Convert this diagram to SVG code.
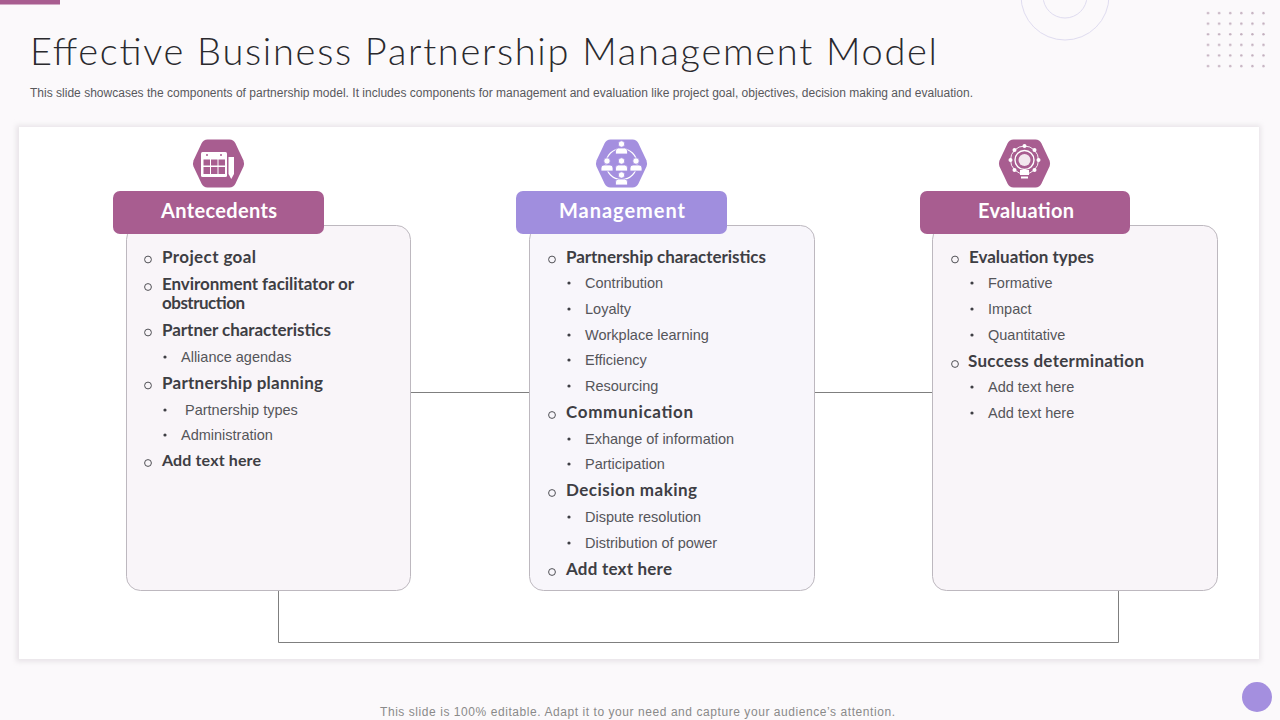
<svg xmlns="http://www.w3.org/2000/svg" width="1280" height="720" viewBox="0 0 1280 720">
<style>
text{font-variant-ligatures:none}
.bg{fill:#fbf9fb}
.title{font:300 38px Lato,"Liberation Sans",sans-serif;fill:#2a2a2e}
.sub{font:400 12px "Liberation Sans",Arial,sans-serif;fill:#58585c}
.foot{font:400 12px "Liberation Sans",Arial,sans-serif;fill:#8a8a8a}
.head{font:700 20px Lato,"Liberation Sans",sans-serif;fill:#fff}
.h1{font:700 17px Lato,"Liberation Sans",sans-serif;fill:#3e3e44}
.h2{font:400 14.500px "Liberation Sans",Arial,sans-serif;fill:#55555a}
.o{fill:none;stroke:#3e3e44;stroke-width:.9}
.d{fill:#3e3e44}
.card{stroke:#bdb8bf;stroke-width:1}
.conn{fill:none;stroke:#7f7f7f;stroke-width:1}
.ic{fill:#fff}
.il{fill:none;stroke:#fff;stroke-width:1.500}
.dot{fill:#c2aebd}
</style>
<defs>
<path id="hex" d="M-11,-24 H11 Q15,-24 17,-20 L25,-3 Q26,0 25,3 L17,20 Q15,24 11,24 H-11 Q-15,24 -17,20 L-25,3 Q-26,0 -25,-3 L-17,-20 Q-15,-24 -11,-24Z"/>
<g id="person"><circle cx="0" cy="-5" r="3.200" class="ic" stroke="#a48fdf" stroke-width=".8"/><path class="ic" stroke="#a48fdf" stroke-width=".8" d="M-6,5 V2 Q-6,-1 -3,-1 H3 Q6,-1 6,2 V5Z"/></g>
<circle id="o" r="3.400" class="o"/>
<circle id="b" r="1.600" class="d"/>
<pattern id="dots" x="1203" y="8" width="11.100" height="10.600" patternUnits="userSpaceOnUse"><circle cx="5" cy="5" r="1.200" class="dot"/></pattern>
<filter id="sh" x="-2%" y="-3%" width="104%" height="106%"><feGaussianBlur stdDeviation="2.500"/></filter>
</defs>
<rect class="bg" width="1280" height="720"/>
<rect width="60" height="4.500" fill="#a85d90"/>
<g fill="none" stroke="#dfdcf0" stroke-width="1"><circle cx="1065" cy="-4" r="44"/><circle cx="1065" cy="-4" r="22"/></g>
<rect x="1203" y="8" width="66" height="64" fill="url(#dots)"/>
<text class="title" x="30" y="65" textLength="907" lengthAdjust="spacing">Effective Business Partnership Management Model</text>
<text class="sub" x="30" y="97" textLength="943" lengthAdjust="spacing">This slide showcases the components of partnership model. It includes components for management and evaluation like project goal, objectives, decision making and evaluation.</text>
<rect x="16" y="125" width="1245" height="537" fill="#e9e5e9" filter="url(#sh)"/>
<rect x="19" y="127" width="1240" height="532" fill="#fff"/>
<g id="connectors">
<path class="conn" d="M411,392.500H530M815,392.500H933M278.500,590V642.500H1118.500V590"/>
</g>
<g id="antecedents">
<rect class="card" x="126.500" y="225.500" width="284" height="365" rx="14" fill="#f9f5f9"/>
<use href="#hex" x="218.500" y="163.500" fill="#a85d90"/>
<g class="icon">
<rect x="201" y="152" width="26" height="25" rx="1.500" class="ic"/>
<circle cx="207" cy="155" r="1" fill="#a85d90"/><circle cx="221" cy="155" r="1" fill="#a85d90"/>
<g fill="#a85d90"><rect x="203.500" y="159.500" width="6.500" height="6"/><rect x="211" y="159.500" width="6.500" height="6"/><rect x="218.500" y="159.500" width="6.500" height="6"/><rect x="203.500" y="167" width="6.500" height="7"/><rect x="211" y="167" width="6.500" height="7"/><rect x="218.500" y="167" width="6.500" height="7"/></g>
<path class="ic" d="M228.500,157h5.500v17l-2.750,5l-2.750,-5z"/>
</g>
<rect x="113" y="191" width="211" height="43" rx="7" fill="#a85d90"/>
<text class="head" x="161" y="218" textLength="116">Antecedents</text>
<use href="#o" x="148" y="259.500"/><text class="h1" x="162" y="263" textLength="94">Project goal</text>
<use href="#o" x="148" y="287"/><text class="h1" x="162" y="290" textLength="192">Environment facilitator or</text><text class="h1" x="162" y="309" textLength="83">obstruction</text>
<use href="#o" x="148" y="332.500"/><text class="h1" x="162" y="336" textLength="169">Partner characteristics</text>
<use href="#b" x="165" y="357"/><text class="h2" x="181" y="362">Alliance agendas</text>
<use href="#o" x="148" y="385.500"/><text class="h1" x="162" y="389" textLength="161">Partnership planning</text>
<use href="#b" x="165" y="410"/><text class="h2" x="185" y="415">Partnership types</text>
<use href="#b" x="165" y="435"/><text class="h2" x="181" y="440">Administration</text>
<use href="#o" x="148" y="463"/><text class="h1" x="162" y="466" style="font-size:16px" textLength="99">Add text here</text>
</g>
<g id="management">
<rect class="card" x="529.500" y="225.500" width="285" height="365" rx="14" fill="#f8f6fb"/>
<use href="#hex" x="621.500" y="163.500" fill="#a48fdf"/>
<circle cx="621.500" cy="164" r="15.500" fill="none" stroke="#fff" stroke-width="1.200"/>
<use href="#person" x="621.500" y="149"/><use href="#person" x="621.500" y="166"/><use href="#person" x="607" y="166"/><use href="#person" x="636" y="166"/><use href="#person" x="621.500" y="180"/>
<rect x="516" y="191" width="211" height="43" rx="7" fill="#a08ede"/>
<text class="head" x="559" y="218" textLength="126">Management</text>
<use href="#o" x="552" y="259.500"/><text class="h1" x="566" y="263" textLength="200">Partnership characteristics</text>
<use href="#b" x="569" y="283"/><text class="h2" x="585" y="288">Contribution</text>
<use href="#b" x="569" y="309"/><text class="h2" x="585" y="314">Loyalty</text>
<use href="#b" x="569" y="335"/><text class="h2" x="585" y="340">Workplace learning</text>
<use href="#b" x="569" y="360"/><text class="h2" x="585" y="365">Efficiency</text>
<use href="#b" x="569" y="386"/><text class="h2" x="585" y="391">Resourcing</text>
<use href="#o" x="552" y="415"/><text class="h1" x="566" y="418" textLength="127">Communication</text>
<use href="#b" x="569" y="439"/><text class="h2" x="585" y="444">Exhange of information</text>
<use href="#b" x="569" y="464"/><text class="h2" x="585" y="469">Participation</text>
<use href="#o" x="552" y="493"/><text class="h1" x="566" y="496" textLength="131">Decision making</text>
<use href="#b" x="569" y="517"/><text class="h2" x="585" y="522">Dispute resolution</text>
<use href="#b" x="569" y="543"/><text class="h2" x="585" y="548">Distribution of power</text>
<use href="#o" x="552" y="572"/><text class="h1" x="566" y="575" textLength="106">Add text here</text>
</g>
<g id="evaluation">
<rect class="card" x="932.500" y="225.500" width="285" height="365" rx="14" fill="#f9f5f9"/>
<use href="#hex" x="1024.500" y="163.500" fill="#a85d90"/>
<circle cx="1024.500" cy="160" r="14" fill="none" stroke="#fff" stroke-width=".9"/>
<circle cx="1024.500" cy="160" r="9.500" fill="none" stroke="#fff" stroke-width="1.400"/>
<circle cx="1024.500" cy="160" r="6" fill="#fff" fill-opacity=".85"/>
<path class="ic" d="M1020,170h9v5h-9zM1021,176.500h7v2h-7z"/>
<g class="ic"><circle cx="1024.500" cy="146" r="2"/><circle cx="1014.500" cy="150" r="2"/><circle cx="1034.500" cy="150" r="2"/><circle cx="1010.500" cy="160" r="2"/><circle cx="1038.500" cy="160" r="2"/><circle cx="1014.500" cy="170" r="2"/><circle cx="1034.500" cy="170" r="2"/></g>
<rect x="920" y="191" width="210" height="43" rx="7" fill="#a85d90"/>
<text class="head" x="978" y="218" textLength="96">Evaluation</text>
<use href="#o" x="955" y="259.500"/><text class="h1" x="969" y="263" textLength="125">Evaluation types</text>
<use href="#b" x="972" y="283"/><text class="h2" x="988" y="288">Formative</text>
<use href="#b" x="972" y="309"/><text class="h2" x="988" y="314">Impact</text>
<use href="#b" x="972" y="335"/><text class="h2" x="988" y="340">Quantitative</text>
<use href="#o" x="955" y="364"/><text class="h1" x="968" y="367" textLength="176">Success determination</text>
<use href="#b" x="972" y="387"/><text class="h2" x="988" y="392">Add text here</text>
<use href="#b" x="972" y="413"/><text class="h2" x="988" y="418">Add text here</text>
</g>
<text class="foot" x="380" y="716" textLength="515" lengthAdjust="spacing">This slide is 100% editable. Adapt it to your need and capture your audience’s attention.</text>
<circle cx="1257" cy="697" r="15" fill="#a48fdf"/>
</svg>
